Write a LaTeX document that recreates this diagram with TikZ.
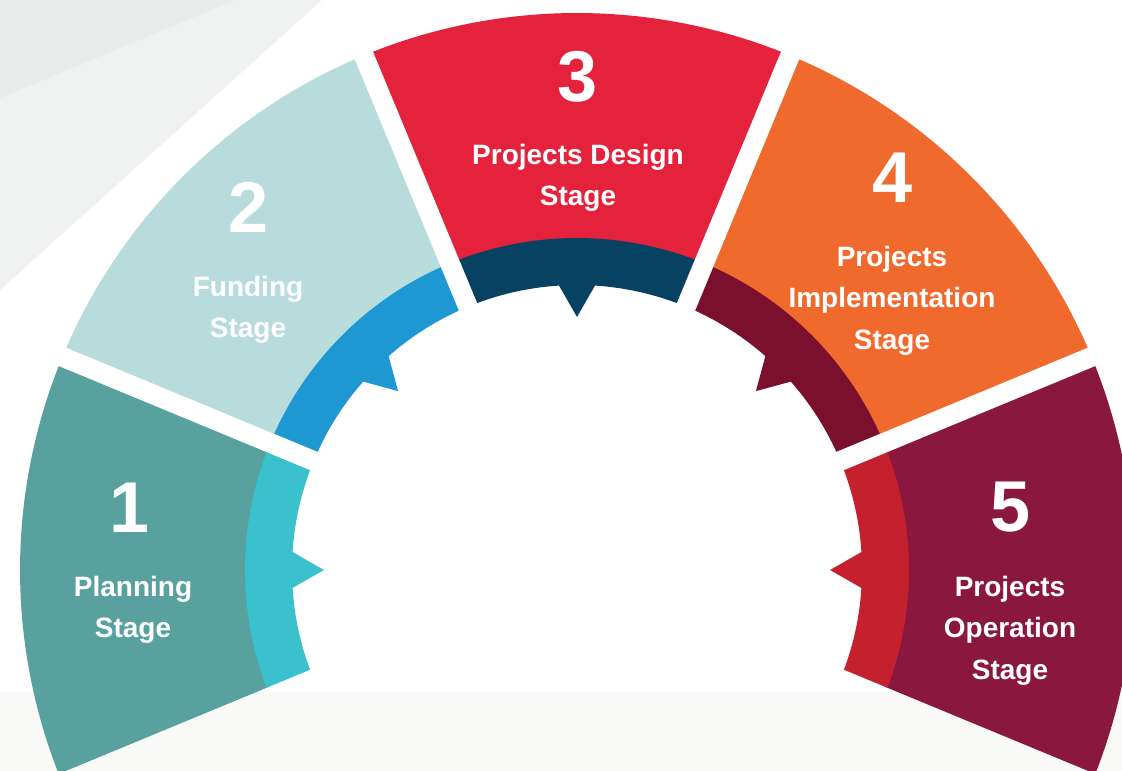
\documentclass[tikz,border=0pt]{standalone}
\usepackage{fontspec}
\setmainfont{Liberation Sans}
\definecolor{bgA}{HTML}{F0F1F1}
\definecolor{bgB}{HTML}{EAEBEB}
\definecolor{bgC}{HTML}{F9F9F7}
\definecolor{sAo}{HTML}{58A19F}
\definecolor{sAi}{HTML}{3BC1CD}
\definecolor{sBo}{HTML}{B8DCDC}
\definecolor{sBi}{HTML}{1E98D3}
\definecolor{sCo}{HTML}{E5223C}
\definecolor{sCi}{HTML}{074263}
\definecolor{sDo}{HTML}{F06A2E}
\definecolor{sDi}{HTML}{7B0F2E}
\definecolor{sEo}{HTML}{8A173E}
\definecolor{sEi}{HTML}{C5202E}
\tikzset{
  numtxt/.style={text=white, inner sep=0pt, anchor=base, font=\bfseries\fontsize{72}{72}\selectfont},
  lbltxt/.style={text=white, inner sep=0pt, anchor=base, font=\bfseries\fontsize{28}{34}\selectfont}
}
\begin{document}
\begin{tikzpicture}[x=1pt,y=1pt]
\useasboundingbox (0,0) rectangle (1122,771);
\clip (0,0) rectangle (1122,771);
\fill[white] (0,0) rectangle (1122,771);
\fill[bgA] (0,771) -- (0,481) -- (322,771) -- cycle;
\fill[bgB] (0,771) -- (0,673) -- (235,771) -- cycle;
\fill[bgC] (0,0) rectangle (1122,79);

\begin{scope}[shift={(577,201)}]
\foreach \m/\oc/\ic in {180/sAo/sAi, 135/sBo/sBi, 90/sCo/sCi, 45/sDo/sDi, 0/sEo/sEi} {
  \pgfmathsetmacro\a{\m-22.5}
  \pgfmathsetmacro\b{\m+22.5}
  \pgfmathsetmacro\oa{\a+asin(10/557)}
  \pgfmathsetmacro\ob{\b-asin(10/557)}
  \pgfmathsetmacro\ma{\a+asin(10/332)}
  \pgfmathsetmacro\mb{\b-asin(10/332)}
  \pgfmathsetmacro\ia{\a+asin(10/285)}
  \pgfmathsetmacro\ib{\b-asin(10/285)}
  \fill[\oc] (\oa:557) arc[start angle=\oa, end angle=\ob, radius=557]
     -- (\mb:331) arc[start angle=\mb, end angle=\ma, radius=331] -- cycle;
  \fill[\ic] (\ma:332) arc[start angle=\ma, end angle=\mb, radius=332]
     -- (\ib:285) arc[start angle=\ib, end angle={\m+3.62}, radius=285]
     -- (\m:253) -- ({\m-3.62}:285)
     arc[start angle={\m-3.62}, end angle=\ia, radius=285] -- cycle;
}
\end{scope}

% segment 1
\node[numtxt] (n1) at (130,238) {1};
\node[lbltxt] (a1) at (133,174) {Planning};
\node[lbltxt] (b1) at (133,133) {Stage};
% segment 2
\node[numtxt] (n2) at (249,538) {2};
\node[lbltxt] (a2) at (248,474) {Funding};
\node[lbltxt] (b2) at (248,433) {Stage};
% segment 3
\node[numtxt] (n3) at (578,669) {3};
\node[lbltxt] (a3) at (578,606) {Projects Design};
\node[lbltxt] (b3) at (578,565) {Stage};
% segment 4
\node[numtxt] (n4) at (893,568) {4};
\node[lbltxt] (a4) at (892,504) {Projects};
\node[lbltxt] (b4) at (892,463) {Implementation};
\node[lbltxt] (c4) at (892,421) {Stage};
% segment 5
\node[numtxt] (n5) at (1011,239) {5};
\node[lbltxt] (a5) at (1010,174) {Projects};
\node[lbltxt] (b5) at (1010,133) {Operation};
\node[lbltxt] (c5) at (1010,91) {Stage};
\end{tikzpicture}
\end{document}
